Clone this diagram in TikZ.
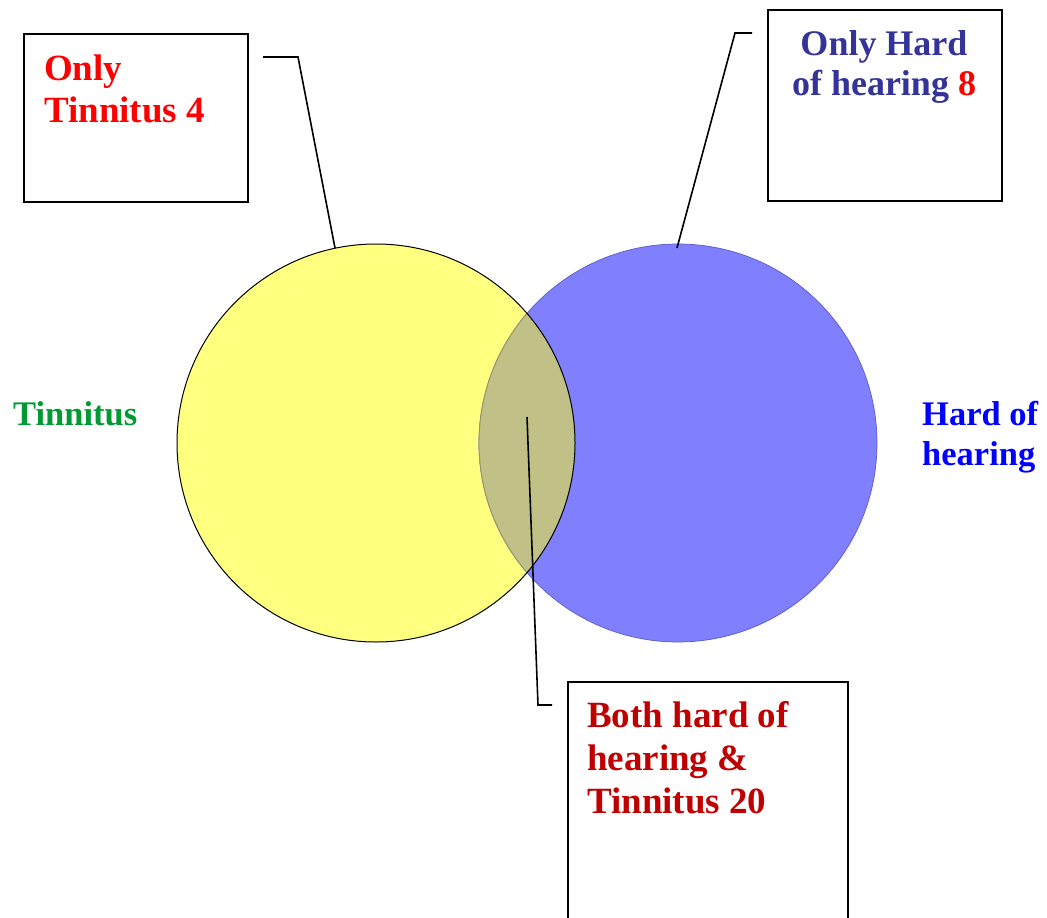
\documentclass[tikz,border=0pt]{standalone}
\usepackage{fontspec}
\setmainfont{Liberation Serif}
\definecolor{yfill}{RGB}{255,255,128}
\definecolor{bfill}{RGB}{128,128,255}
\definecolor{lensfill}{RGB}{192,192,135}
\definecolor{bline}{RGB}{90,90,200}
\definecolor{lensline}{RGB}{150,150,110}
\definecolor{tred}{RGB}{255,0,0}
\definecolor{tnavy}{RGB}{51,51,153}
\definecolor{tdred}{RGB}{192,0,0}
\definecolor{tgreen}{RGB}{0,153,51}
\definecolor{tblue}{RGB}{0,0,255}
\tikzset{
  box/.style={draw=black, line width=1.8pt, fill=white, rectangle, inner sep=0pt, anchor=north west},
  lbl/.style={font=\fontsize{36}{42}\selectfont\bfseries, inner sep=0pt, align=left},
  leader/.style={draw=black, line width=1.6pt}
}
\begin{document}
\begin{tikzpicture}[x=1pt,y=-1pt]
\useasboundingbox (0,0) rectangle (1047,918);
\clip (0,0) rectangle (1047,918);
% circles
\coordinate (cy) at (376,443);
\coordinate (cb) at (678,443);
\fill[yfill] (cy) circle (199);
\fill[bfill] (cb) circle (199);
\draw[bline, line width=0.7pt] (cb) circle (199);
\begin{scope}
  \clip (cy) circle (199);
  \fill[lensfill] (cb) circle (199);
  \draw[lensline, line width=0.9pt] (cb) circle (199);
\end{scope}
\draw[black, line width=1pt] (cy) circle (199);
% boxes
\node[box, minimum width=224, minimum height=168] (b1) at (23,33) {};
\node[box, minimum width=234, minimum height=191] (b2) at (767,9) {};
\node[box, minimum width=280, minimum height=260] (b3) at (567,681) {};
% box texts (anchor base = baseline of last line)
\node[lbl, font=\fontsize{37}{42}\selectfont\bfseries, text=tred, anchor=base west] (t1) at (44,122) {Only\\Tinnitus 4};
\node[lbl, font=\fontsize{36}{40}\selectfont\bfseries, text=tnavy, align=center, anchor=base] (t2) at (884,95) {Only Hard\\of hearing \textcolor{tred}{8}};
\node[lbl, font=\fontsize{37}{43}\selectfont\bfseries, text=tdred, anchor=base west] (t3) at (587,813) {Both hard of\\hearing \&\\Tinnitus 20};
% side labels
\node[lbl, font=\fontsize{34.5}{40}\selectfont\bfseries, text=tgreen, anchor=base west] (l1) at (13,425) {Tinnitus};
\node[lbl, font=\fontsize{34.5}{40}\selectfont\bfseries, text=tblue, anchor=base west] (l2) at (922,465) {Hard of\\hearing};
% leaders
\coordinate (a1) at (263,57);
\coordinate (k1) at (298,57);
\coordinate (e1) at (335,248);
\coordinate (a2) at (752,33);
\coordinate (k2) at (735,33);
\coordinate (e2) at (677,248);
\coordinate (a3) at (527,417);
\coordinate (k3) at (538,705);
\coordinate (e3) at (552,705);
\draw[leader] (a1) -- (k1) -- (e1);
\draw[leader] (a2) -- (k2) -- (e2);
\draw[leader] (a3) -- (k3) -- (e3);
\end{tikzpicture}
\end{document}
